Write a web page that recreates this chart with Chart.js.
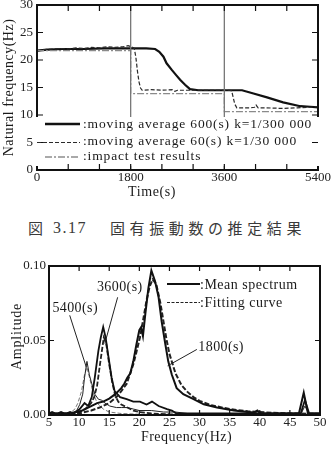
<!DOCTYPE html>
<html><head><meta charset="utf-8">
<script src="https://cdn.jsdelivr.net/npm/chart.js@4/dist/chart.umd.min.js"></script>
<style>
html,body{margin:0;padding:0;background:#fff;width:333px;height:453px;overflow:hidden;}
canvas{position:absolute;left:0;}
#c1{top:0;}
#c2{top:250px;}
.cap{position:absolute;top:219px;font-family:"Noto Sans CJK JP",sans-serif;font-size:15px;line-height:18px;color:#3a3a3a;white-space:nowrap;}
</style></head>
<body>
<canvas id="c1" width="333" height="200" style="width:333px;height:200px"></canvas>
<div class="cap" style="left:28px">図</div>
<div class="cap" style="left:53px;letter-spacing:1.5px;font-family:'Liberation Serif',serif;font-size:16px">3.17</div>
<div class="cap" style="left:110px;letter-spacing:4.6px">固有振動数の推定結果</div>
<canvas id="c2" width="333" height="203" style="width:333px;height:203px"></canvas>
<script>
// ---------- Chart 1 data: natural frequency vs time ----------
const timeTicks = [0, 1800, 3600, 5400];
const timeMinor = [600, 1200, 1800, 2400, 3000, 3600, 4200, 4800];
const freqTicks = [0, 5, 10, 15, 20, 25, 30];
const markerTimes = [1800, 3600];

const ma600T = [0, 200, 500, 900, 1300, 1800, 2100, 2270, 2350, 2430, 2490, 2590, 2670, 2750, 2845, 2940, 3100, 3400, 3700, 3940, 4160, 4420, 4730, 5060, 5250, 5400];
const ma600F = [21.7, 21.9, 22.0, 22.0, 22.1, 22.1, 22.1, 22.0, 21.5, 20.6, 19.4, 18.2, 17.3, 16.4, 15.5, 14.7, 14.5, 14.5, 14.5, 14.5, 13.9, 13.2, 12.3, 11.6, 11.5, 11.4];

const ma60T = [0, 150, 300, 450, 600, 750, 900, 1050, 1200, 1350, 1500, 1650, 1750, 1820, 1870, 1900, 1930, 1960, 1990, 2020, 2200, 2400, 2600, 2650, 2700, 2800, 3000, 3300, 3600, 3700, 3740, 3770, 3800, 3840, 3950, 4100, 4180, 4210, 4250, 4400, 4700, 5000, 5200, 5400];
const ma60F = [21.6, 21.9, 22.0, 22.1, 22.0, 22.2, 22.1, 22.3, 22.2, 22.4, 22.3, 22.4, 22.6, 22.4, 22.1, 20.5, 18.0, 16.0, 14.9, 14.5, 14.6, 14.5, 14.6, 14.3, 14.5, 14.5, 14.5, 14.5, 14.5, 14.5, 14.4, 13.2, 12.0, 11.3, 11.3, 11.3, 11.4, 11.8, 11.3, 11.3, 11.2, 11.3, 11.4, 11.5];

const impactT = [0, 1800, 1800, 3600, 3600, 5400];
const impactF = [21.7, 21.7, 13.9, 13.9, 10.6, 10.6];

const legend1 = [':moving average 600(s) k=1/300 000', ':moving average 60(s) k=1/30 000', ':impact test results'];

// ---------- Chart 2 data: amplitude spectra ----------
const hzTicks = [5, 10, 15, 20, 25, 30, 35, 40, 45, 50];
const ampTicks = [0, 0.05, 0.10];

const spec1800F = [5, 5.5, 6, 6.5, 7, 7.5, 8, 8.5, 9, 9.5, 10, 11, 12, 13, 14, 15, 16, 17, 17.5, 18, 18.5, 19, 19.5, 20, 20.3, 20.6, 21, 21.5, 22, 22.6, 23.2, 23.7, 24.3, 24.8, 25.4, 26.2, 27.3, 29, 30.7, 32.9, 35.7, 39, 39.6, 40.1, 43, 46.5, 47.3, 48, 49, 50];
const spec1800A = [0.001, 0.002, 0.001, 0.001, 0.002, 0.001, 0.001, 0.002, 0.001, 0.002, 0.002, 0.004, 0.006, 0.008, 0.009, 0.011, 0.014, 0.018, 0.021, 0.025, 0.028, 0.036, 0.047, 0.057, 0.059, 0.053, 0.068, 0.085, 0.097, 0.090, 0.079, 0.063, 0.048, 0.036, 0.027, 0.018, 0.014, 0.0106, 0.0072, 0.005, 0.003, 0.0016, 0.003, 0.001, 0.001, 0.001, 0.015, 0.001, 0.001, 0.001];

const fit1800F = [5, 8, 10, 12, 13.4, 15, 16.2, 17, 17.9, 19, 19.5, 20.1, 20.6, 21.2, 21.7, 22.2, 22.8, 23.5, 24, 24.5, 25, 26, 27, 28, 29, 30, 32, 35, 38, 42, 46, 50];
const fit1800A = [0.0003, 0.0006, 0.001, 0.003, 0.005, 0.008, 0.012, 0.016, 0.021, 0.034, 0.042, 0.052, 0.063, 0.077, 0.086, 0.091, 0.088, 0.075, 0.063, 0.051, 0.041, 0.028, 0.020, 0.0155, 0.012, 0.0095, 0.0065, 0.004, 0.0025, 0.0015, 0.001, 0.0007];

const spec3600F = [5, 6, 7, 8, 9, 9.3, 10.1, 10.9, 11.5, 12.1, 12.6, 13.2, 13.6, 14.0, 14.4, 14.8, 15.4, 15.9, 16.8, 17.9, 19, 20.1, 21.2, 22.1, 23.2, 24.6, 25.4, 26.2, 28, 35, 40, 46.8, 47.5, 48.2, 50];
const spec3600A = [0.001, 0.001, 0.001, 0.001, 0.0015, 0.0016, 0.004, 0.008, 0.006, 0.012, 0.025, 0.043, 0.052, 0.059, 0.052, 0.041, 0.025, 0.016, 0.012, 0.0106, 0.009, 0.009, 0.007, 0.009, 0.006, 0.004, 0.003, 0.001, 0.001, 0.001, 0.001, 0.001, 0.010, 0.001, 0.001];

const fit3600F = [5, 8, 10, 11, 12, 12.5, 13, 13.5, 14.1, 14.5, 15, 15.5, 16, 16.5, 17, 18, 19, 20, 22, 25, 30, 50];
const fit3600A = [0.0003, 0.001, 0.002, 0.004, 0.008, 0.012, 0.02, 0.035, 0.052, 0.048, 0.034, 0.022, 0.013, 0.009, 0.007, 0.005, 0.003, 0.002, 0.001, 0.0005, 0.0003, 0.0001];

const spec5400F = [5, 7, 8, 8.7, 9.6, 10.1, 10.6, 10.9, 11.3, 11.7, 12.1, 12.6, 13.2, 13.7, 14.3, 15.1, 16.2, 17, 18, 19, 20, 22, 24, 26, 28, 30, 35, 45, 46.8, 47.5, 48.2, 50];
const spec5400A = [0.001, 0.001, 0.001, 0.001, 0.003, 0.007, 0.014, 0.025, 0.036, 0.027, 0.021, 0.014, 0.0106, 0.01, 0.008, 0.006, 0.005, 0.005, 0.005, 0.004, 0.003, 0.003, 0.002, 0.002, 0.001, 0.001, 0.0005, 0.0005, 0.0005, 0.006, 0.0005, 0.0005];

const fit5400F = [5, 7, 8.4, 9.3, 9.8, 10.4, 10.9, 11.3, 11.8, 12.3, 13, 14, 15, 17, 20, 50];
const fit5400A = [0.0002, 0.0005, 0.001, 0.004, 0.008, 0.016, 0.027, 0.032, 0.024, 0.015, 0.008, 0.004, 0.002, 0.001, 0.0005, 0.0001];

const legend2 = [':Mean spectrum', ':Fitting curve'];
// annotation labels: text, label anchor (Hz, amp), leader start (Hz, amp), leader end (Hz, amp)
const noteText = ['5400(s)', '3600(s)', '1800(s)'];
const noteAnchor = [[9.35, 0.0716], [16.75, 0.0855], [29.8, 0.0453]];
const noteFrom = [[8.44, 0.0669], [16.4, 0.0790], [29.55, 0.0440]];
const noteTo = [[11.2, 0.032], [14.27, 0.048], [24.7, 0.033]];
const noteAlign = ['center', 'center', 'left'];

// ---------- helpers ----------
const SERIF = '"Liberation Serif", "Times New Roman", serif';
const pts = (xs, ys) => xs.map((v, i) => ({x: v, y: ys[i]}));
function txt(ctx, s, x, y, size, align, spacing, rot) {
  ctx.save();
  ctx.font = size + 'px ' + SERIF;
  ctx.fillStyle = '#1a1a1a';
  ctx.letterSpacing = spacing + 'px';
  ctx.textAlign = align; ctx.textBaseline = 'middle';
  ctx.translate(x, y); if (rot) ctx.rotate(rot);
  ctx.fillText(s, 0, 0);
  ctx.restore();
}
function seg(ctx, x1, y1, x2, y2, w, color, dash) {
  ctx.save(); ctx.strokeStyle = color; ctx.lineWidth = w; ctx.setLineDash(dash || []);
  ctx.beginPath(); ctx.moveTo(x1, y1); ctx.lineTo(x2, y2); ctx.stroke(); ctx.restore();
}
function ticks(chart, xVals, yVals, len, w) {
  const {ctx, chartArea: a, scales: {x, y}} = chart;
  ctx.save(); ctx.strokeStyle = '#111'; ctx.lineWidth = w; ctx.beginPath();
  xVals.forEach(v => { const p = x.getPixelForValue(v);
    ctx.moveTo(p, a.bottom); ctx.lineTo(p, a.bottom - len); ctx.moveTo(p, a.top); ctx.lineTo(p, a.top + len); });
  yVals.forEach(v => { const p = y.getPixelForValue(v);
    ctx.moveTo(a.left, p); ctx.lineTo(a.left + len, p); ctx.moveTo(a.right, p); ctx.lineTo(a.right - len, p); });
  ctx.stroke(); ctx.restore();
}
function frame(chart, w) {
  const {ctx, chartArea: a} = chart;
  ctx.save(); ctx.strokeStyle = '#111'; ctx.lineWidth = w;
  ctx.strokeRect(a.left, a.top, a.right - a.left, a.bottom - a.top); ctx.restore();
}
function fixedAxis(size, horiz) {
  return function (s) { if (horiz) s.height = size; else s.width = size;
    s.paddingTop = 0; s.paddingBottom = 0; s.paddingLeft = 0; s.paddingRight = 0; };
}
function setTicks(vals) { return function (s) { s.ticks = vals.map(v => ({value: v})); }; }
const line = (data, color, w, dash) => ({data, borderColor: color, borderWidth: w, borderDash: dash || [],
  showLine: true, pointRadius: 0, fill: false, tension: 0});

// ---------- Chart 1 ----------
const ds1 = markerTimes.map(t => line(pts([t, t], [0, 30]), '#777', 1.3));
ds1.push(line(pts(impactT, impactF), '#8a8a8a', 1.3, [7, 2, 2, 2]));
ds1.push(line(pts(ma60T, ma60F), '#2a2a2a', 1.2, [4, 2]));
ds1.push(line(pts(ma600T, ma600F), '#111', 2.2));

new Chart(document.getElementById('c1'), {
  type: 'scatter',
  data: {datasets: ds1},
  options: {
    responsive: false, animation: false, devicePixelRatio: 1,
    layout: {padding: {top: 5, right: 15, left: 0, bottom: 0}},
    plugins: {legend: {display: false}, tooltip: {enabled: false}},
    scales: {
      x: {type: 'linear', min: 0, max: 5400, afterBuildTicks: setTicks(timeTicks), afterFit: fixedAxis(30, true),
        grid: {display: false, drawTicks: false}, border: {display: false},
        ticks: {font: {family: SERIF, size: 13}, color: '#222', padding: 0, maxRotation: 0, autoSkip: false,
          callback: v => String(v)}},
      y: {type: 'linear', min: 0, max: 30, afterBuildTicks: setTicks(freqTicks), afterFit: fixedAxis(37, false),
        grid: {display: false, drawTicks: false}, border: {display: false},
        ticks: {font: {family: SERIF, size: 13}, color: '#222', padding: 4, autoSkip: false,
          callback: v => String(v)}}
    }
  },
  plugins: [{
    id: 'deco1',
    afterDatasetsDraw(chart) {
      const {ctx, chartArea: a} = chart;
      frame(chart, 2);
      // legend box (white, covers axis lines)
      ctx.save(); ctx.fillStyle = '#fff'; ctx.fillRect(a.left - 1.5, 117, a.right - a.left + 3, 49); ctx.restore();
      ticks(chart, timeMinor, freqTicks.slice(1, -1), 6, 1.2);
      seg(ctx, a.left + 8, 124, a.left + 43, 124, 2.4, '#111');
      seg(ctx, a.left, 142.5, a.left + 43, 142.5, 1.2, '#2a2a2a', [4, 2]);
      seg(ctx, a.left + 8, 157, a.left + 43, 157, 1.2, '#555', [7, 2, 2, 2]);
      txt(ctx, legend1[0], a.left + 46, 124, 13.5, 'left', 0.85);
      txt(ctx, legend1[1], a.left + 46, 141, 13.5, 'left', 0.85);
      txt(ctx, legend1[2], a.left + 46, 156, 13.5, 'left', 0.85);
    },
    afterDraw(chart) {
      const {ctx, chartArea: a} = chart;
      txt(ctx, 'Time(s)', 152, 192, 14, 'center', 0.6);
      txt(ctx, 'Natural frequency(Hz)', 9, (a.top + a.bottom) / 2, 14, 'center', 0.5, -Math.PI / 2);
    }
  }]
});

// ---------- Chart 2 ----------
const ds2 = [
  line(pts(spec1800F, spec1800A), '#111', 2),
  line(pts(fit1800F, fit1800A), '#222', 2, [5, 2]),
  line(pts(spec3600F, spec3600A), '#111', 1.8),
  line(pts(fit3600F, fit3600A), '#222', 1.8, [5, 2]),
  line(pts(spec5400F, spec5400A), '#222', 1),
  line(pts(fit5400F, fit5400A), '#777', 1, [4, 2])
];

new Chart(document.getElementById('c2'), {
  type: 'scatter',
  data: {datasets: ds2},
  options: {
    responsive: false, animation: false, devicePixelRatio: 1,
    layout: {padding: {top: 16, right: 13, left: 0, bottom: 0}},
    plugins: {legend: {display: false}, tooltip: {enabled: false}},
    scales: {
      x: {type: 'linear', min: 5, max: 50, afterBuildTicks: setTicks(hzTicks), afterFit: fixedAxis(38, true),
        grid: {display: false, drawTicks: false}, border: {display: false},
        ticks: {font: {family: SERIF, size: 13}, color: '#222', padding: 0, maxRotation: 0, autoSkip: false,
          callback: v => String(v)}},
      y: {type: 'linear', min: 0, max: 0.10, afterBuildTicks: setTicks(ampTicks), afterFit: fixedAxis(49, false),
        grid: {display: false, drawTicks: false}, border: {display: false},
        ticks: {font: {family: SERIF, size: 13}, color: '#222', padding: 3, autoSkip: false,
          callback: v => v.toFixed(2)}}
    }
  },
  plugins: [{
    id: 'deco2',
    afterDatasetsDraw(chart) {
      const {ctx, chartArea: a, scales: {x, y}} = chart;
      frame(chart, 2);
      ticks(chart, hzTicks.slice(1, -1), [0.05], 5, 1.2);
      // legend
      seg(ctx, 167, 34, 200, 34, 2, '#111');
      seg(ctx, 167, 52.5, 200, 52.5, 1.2, '#222', [3, 1.5]);
      txt(ctx, legend2[0], 200, 35, 14, 'left', 0.5);
      txt(ctx, legend2[1], 200, 53.5, 14, 'left', 0.5);
      // annotations
      noteText.forEach((s, i) => {
        seg(ctx, x.getPixelForValue(noteFrom[i][0]), y.getPixelForValue(noteFrom[i][1]),
          x.getPixelForValue(noteTo[i][0]), y.getPixelForValue(noteTo[i][1]), 1, '#222');
        txt(ctx, s, x.getPixelForValue(noteAnchor[i][0]), y.getPixelForValue(noteAnchor[i][1]), 14, noteAlign[i], 0.4);
      });
    },
    afterDraw(chart) {
      const {chartArea: a, ctx} = chart;
      txt(ctx, 'Frequency(Hz)', (a.left + a.right) / 2 + 2, 187, 14, 'center', 0.5);
      txt(ctx, 'Amplitude', 17, (a.top + a.bottom) / 2 - 4, 14, 'center', 0.8, -Math.PI / 2);
    }
  }]
});
</script>
</body></html>
